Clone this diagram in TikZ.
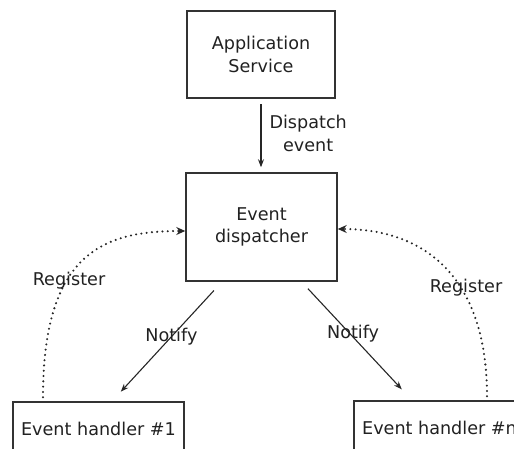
\documentclass[tikz,border=0pt]{standalone}
\usepackage{fontspec}
\setmainfont{DejaVu Sans}
\usetikzlibrary{arrows.meta}

\tikzset{
  box/.style={draw=black!80, line width=1.5pt, align=center, inner sep=0pt},
  flow/.style={-{Stealth[length=8pt,width=6pt]}, line width=1.1pt, draw=black!85},
  reg/.style={-{Stealth[length=9pt,width=8pt,inset=3pt]}, line width=2.3pt,
    dash pattern=on 0pt off 5.3pt, line cap=round, draw=black!85},
  lbl/.style={inner sep=0pt, align=center}
}

\begin{document}
\begin{tikzpicture}[x=1pt, y=-1pt, font=\fontsize{17.6}{22.5}\selectfont, text=black!87]
  \useasboundingbox (0,0) rectangle (514,448);
  \clip (0,0) rectangle (514,448);

  % The boxes
  \node[box, line width=2pt, minimum width=148pt, minimum height=87pt] (app) at (261,54.5) {Application\\Service};
  \node[box, minimum width=151pt, minimum height=108pt] (disp) at (261.5,227) {Event\\dispatcher};
  \node[box, minimum width=171pt, minimum height=54pt] (h1) at (98.5,429) {Event handler \#1};
  \node[box, minimum width=171pt, minimum height=54pt] (hn) at (439.5,428) {Event handler \#n};

  % Dispatching
  \draw[flow, shorten <=5pt, shorten >=5pt] (app.south) -- (app.south |- disp.north)
    node[lbl, midway, right=8pt, yshift=2pt] (dsp) {Dispatch\\event};

  % Notifying the handlers
  \draw[flow, shorten <=12pt, shorten >=13pt] ([xshift=-39.5pt]disp.south) -- ([xshift=13.5pt]h1.north)
    node[lbl, pos=0.46] (nfy1) {Notify};
  \draw[flow, shorten <=9.5pt, shorten >=15pt] ([xshift=40pt]disp.south) -- ([xshift=-27.5pt]hn.north)
    node[lbl, pos=0.44, xshift=3pt] (nfyn) {Notify};

  % Registering with the dispatcher
  \draw[reg, shorten <=4pt] ([xshift=-55.5pt]h1.north) .. controls +(0,-150) and +(-80,0) .. ([yshift=-4pt]disp.west);
  \draw[reg, shorten <=4pt] ([xshift=47.5pt]hn.north) .. controls +(0,-120) and +(90,0) .. ([yshift=-2pt]disp.east);
  \node[lbl] (reg1) at (69,281) {Register};
  \node[lbl] (regn) at (466,288) {Register};
\end{tikzpicture}
\end{document}
